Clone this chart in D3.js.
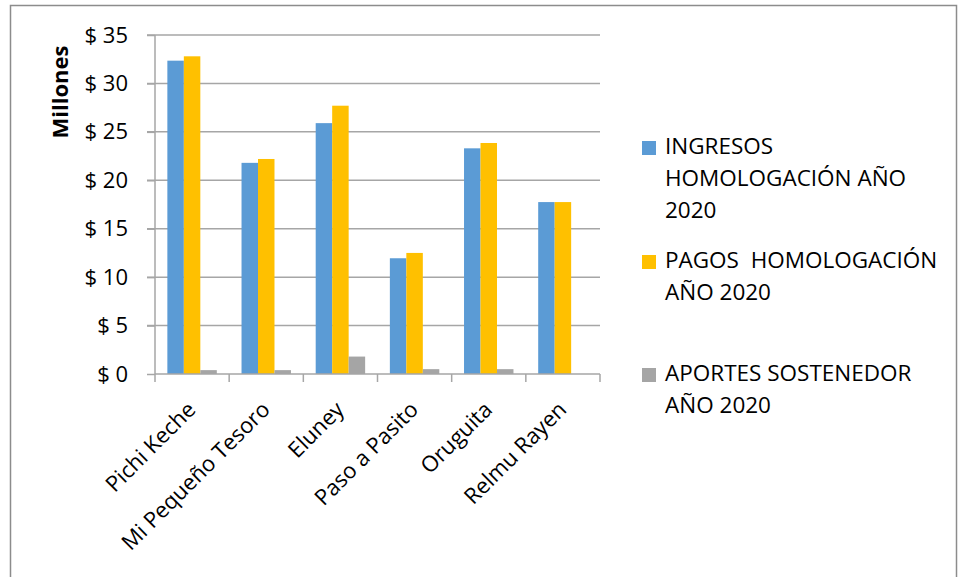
<!DOCTYPE html>
<html>
<head>
<meta charset="utf-8">
<script src="https://cdn.jsdelivr.net/npm/d3@7"></script>
<style>
  body { margin: 0; background: #fff; }
  text { font-family: "Open Sans", "Noto Sans", sans-serif; fill: #000; }
</style>
</head>
<body>
<svg id="chart" width="958" height="577"></svg>
<script>
var categories = ['Pichi Keche', 'Mi Pequeño Tesoro', 'Eluney', 'Paso a Pasito', 'Oruguita', 'Relmu Rayen'];
var seriesNames = [
    ['INGRESOS', 'HOMOLOGACIÓN AÑO', '2020'],
    ['PAGOS  HOMOLOGACIÓN', 'AÑO 2020'],
    ['APORTES SOSTENEDOR', 'AÑO 2020']
];
var ingresos = [32.35, 21.8, 25.9, 11.95, 23.3, 17.75];
var pagos = [32.8, 22.2, 27.7, 12.5, 23.85, 17.75];
var aportes = [0.4, 0.4, 1.8, 0.5, 0.5, 0];
var yTicks = [0, 5, 10, 15, 20, 25, 30, 35];
var colors = ['#5B9BD5', '#FFC000', '#A5A5A5'];

var series = [ingresos, pagos, aportes];
var svg = d3.select('#chart');

// marco exterior
svg.append('rect')
    .attr('x', 10.5).attr('y', 5.5)
    .attr('width', 946).attr('height', 600)
    .attr('fill', 'none').attr('stroke', '#8c8c8c').attr('stroke-width', 1.5);

var plot = { left: 155, right: 600, top: 35, bottom: 374 };

var x = d3.scaleBand().domain(categories).range([plot.left, plot.right]);
var xInner = d3.scaleBand().domain([0, 1, 2])
    .range([0, x.bandwidth()]).paddingOuter(0.75).paddingInner(0);
var y = d3.scaleLinear().domain([0, 35]).range([plot.bottom, plot.top]);

// lineas de grilla
svg.append('g').selectAll('line').data(yTicks.slice(1)).enter().append('line')
    .attr('x1', plot.left - 8).attr('x2', plot.right)
    .attr('y1', function (d) { return y(d); })
    .attr('y2', function (d) { return y(d); })
    .attr('stroke', '#a6a6a6').attr('stroke-width', 1.5);

// barras
var groups = svg.append('g').selectAll('g').data(series).enter().append('g')
    .attr('fill', function (d, i) { return colors[i]; });
groups.each(function (vals, si) {
    d3.select(this).selectAll('rect').data(vals).enter().append('rect')
        .attr('x', function (d, i) { return x(categories[i]) + xInner(si); })
        .attr('width', xInner.bandwidth())
        .attr('y', function (d) { return y(d); })
        .attr('height', function (d) { return y(0) - y(d); });
});

// eje y
var yAxis = svg.append('g')
    .attr('transform', 'translate(' + plot.left + ',0)')
    .call(d3.axisLeft(y).tickValues(yTicks).tickSize(8).tickPadding(19)
        .tickFormat(function (d) { return '$ ' + d; }));
yAxis.select('.domain').attr('stroke', '#a6a6a6').attr('stroke-width', 1.5)
    .attr('d', 'M0,' + plot.top + 'V' + plot.bottom);
yAxis.selectAll('.tick line').attr('stroke', '#a6a6a6').attr('stroke-width', 1.5);
yAxis.selectAll('.tick text').attr('font-size', 22).attr('fill', '#000')
    .attr('font-family', '"Open Sans", sans-serif');

// eje x
var xAxis = svg.append('g')
    .attr('transform', 'translate(0,' + plot.bottom + ')');
xAxis.append('line')
    .attr('x1', plot.left).attr('x2', plot.right)
    .attr('stroke', '#a6a6a6').attr('stroke-width', 1.5);
var bounds = categories.map(function (c) { return x(c); }).concat([plot.right]);
xAxis.selectAll('line.tk').data(bounds).enter().append('line')
    .attr('class', 'tk')
    .attr('x1', function (d) { return d; }).attr('x2', function (d) { return d; })
    .attr('y1', 0).attr('y2', 8)
    .attr('stroke', '#a6a6a6').attr('stroke-width', 1.5);
xAxis.selectAll('text').data(categories).enter().append('text')
    .attr('transform', function (d) {
        return 'translate(' + (x(d) + x.bandwidth() / 2 + 5) + ',37) rotate(-45)';
    })
    .attr('text-anchor', 'end')
    .attr('font-size', 22)
    .text(function (d) { return d; });

// titulo eje y
svg.append('text')
    .attr('transform', 'translate(62,92) rotate(-90)')
    .attr('text-anchor', 'middle')
    .attr('dominant-baseline', 'middle')
    .attr('font-size', 22).attr('font-weight', 'bold')
    .text('Millones');

// leyenda
var legendY = [148, 262, 375];
var legend = svg.append('g');
seriesNames.forEach(function (lines, i) {
    legend.append('rect')
        .attr('x', 642).attr('y', legendY[i] - 7)
        .attr('width', 14).attr('height', 14)
        .attr('fill', colors[i]);
    legend.append('text')
        .attr('x', 665).attr('y', legendY[i])
        .attr('font-size', 22.5)
        .attr('dominant-baseline', 'middle')
        .selectAll('tspan').data(lines).enter().append('tspan')
        .attr('x', 665)
        .attr('dy', function (d, j) { return j === 0 ? 0 : 32; })
        .attr('xml:space', 'preserve')
        .style('white-space', 'pre')
        .text(function (d) { return d; });
});
</script>
</body>
</html>
